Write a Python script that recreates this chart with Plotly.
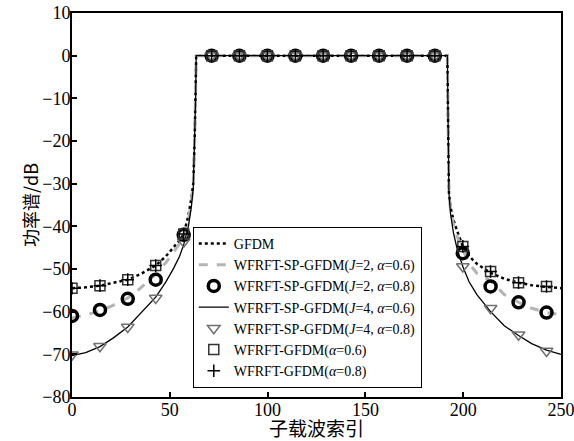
import plotly.graph_objects as go

# Subcarrier positions for continuous curves
x_line = [0, 7, 14.3, 21, 28.5, 35, 42.8, 48, 52, 55, 57.1, 59.5, 61, 62, 62.7, 63.2, 63.5,
          191.9, 192.2, 192.4, 192.7, 193.5, 195, 197, 199.8, 203, 207, 214, 221, 228.3, 235, 242.6, 250]
gfdm = [-54.5, -54.3, -53.9, -53.3, -52.5, -51.2, -49.2, -47, -45, -43.3, -41.8, -37.5, -33.5, -30, -20, -10, 0,
        0, -12, -25, -32, -35.5, -38.5, -41.2, -44.7, -47, -48.8, -50.9, -52.3, -53.2, -53.8, -54.2, -54.5]
sp_j2_a06 = [-61.5, -60.8, -59.8, -58.5, -56.8, -54.5, -51.2, -48.5, -46, -44, -42, -38.5, -34.5, -30, -20, -10, 0,
             0, -12, -25, -32, -36, -39.5, -42.5, -45.5, -48.7, -51, -52.8, -56, -57.8, -59.2, -60.2, -60.7]
sp_j4_a06 = [-70.3, -69.6, -68.2, -66.2, -63.6, -60.5, -56.6, -53, -49.8, -47, -44.3, -40, -35.5, -31, -20, -10, 0,
             0, -12, -25, -32, -37, -41.5, -45.5, -49.4, -53, -56, -60, -63.3, -65.6, -67.5, -69, -70]

# Marker positions
x_mark = [0, 14.3, 28.5, 42.8, 57.1, 71.4, 85.6, 99.9, 114.2, 128.4, 142.7, 157, 171.3, 185.5,
          199.8, 214, 228.3, 242.6]
sp_j2_a08 = [-61, -59.6, -57, -52.5, -42, 0, 0, 0, 0, 0, 0, 0, 0, 0, -46.3, -54.1, -57.8, -60.2]
sp_j4_a08 = [-70.1, -68.1, -63.6, -56.8, -43.6, 0, 0, 0, 0, 0, 0, 0, 0, 0, -49.4, -59.2, -65.4, -69.2]
wf_a06 = [-54.5, -53.9, -52.5, -49.2, -41.8, 0, 0, 0, 0, 0, 0, 0, 0, 0, -44.7, -50.6, -53.2, -54.1]
wf_a08 = [-54.5, -53.9, -52.5, -49.2, -41.8, 0, 0, 0, 0, 0, 0, 0, 0, 0, -44.7, -50.6, -53.2, -54.1]

x_ticks = [0, 50, 100, 150, 200, 250]
y_ticks = [10, 0, -10, -20, -30, -40, -50, -60, -70, -80]
x_title = "子载波索引"
y_title = "功率谱/dB"

serif = "Liberation Serif"
cjk = "Noto Sans CJK SC"

fig = go.Figure()
fig.add_trace(go.Scatter(x=x_line, y=gfdm, mode="lines", name="GFDM",
                         line=dict(color="black", width=2.5, dash="dot")))
fig.add_trace(go.Scatter(x=x_line, y=sp_j2_a06, mode="lines",
                         name="WFRFT-SP-GFDM(<i>J</i>=2, <i>α</i>=0.6)",
                         line=dict(color="#b4b4b4", width=3, dash="dash")))
fig.add_trace(go.Scatter(x=x_mark, y=sp_j2_a08, mode="markers",
                         name="WFRFT-SP-GFDM(<i>J</i>=2, <i>α</i>=0.8)",
                         marker=dict(symbol="circle-open", size=11, color="black", line=dict(width=3.5))))
fig.add_trace(go.Scatter(x=x_line, y=sp_j4_a06, mode="lines",
                         name="WFRFT-SP-GFDM(<i>J</i>=4, <i>α</i>=0.6)",
                         line=dict(color="black", width=1.3)))
fig.add_trace(go.Scatter(x=x_mark, y=sp_j4_a08, mode="markers",
                         name="WFRFT-SP-GFDM(<i>J</i>=4, <i>α</i>=0.8)",
                         marker=dict(symbol="triangle-down-open", size=11, color="#707070", line=dict(width=1.5))))
fig.add_trace(go.Scatter(x=x_mark, y=wf_a06, mode="markers",
                         name="WFRFT-GFDM(<i>α</i>=0.6)",
                         marker=dict(symbol="square-open", size=10, color="#333333", line=dict(width=1.5))))
fig.add_trace(go.Scatter(x=x_mark, y=wf_a08, mode="markers",
                         name="WFRFT-GFDM(<i>α</i>=0.8)",
                         marker=dict(symbol="cross-thin-open", size=9, color="black", line=dict(width=1.5))))

axis_common = dict(showline=True, linecolor="black", linewidth=2, mirror=True,
                   ticks="inside", ticklen=5, tickcolor="black", tickwidth=1.5,
                   showgrid=False, zeroline=False, automargin=False,
                   ticklabeloverflow="allow",
                   tickfont=dict(family=serif, size=18, color="black"))

fig.update_xaxes(range=[0, 250], tickvals=x_ticks, ticklabelstandoff=-5, **axis_common)
fig.update_yaxes(range=[-80, 10], tickvals=y_ticks, ticklabelstandoff=-4, **axis_common)

fig.add_annotation(text=x_title, xref="paper", yref="paper", x=0.5, y=0,
                   yshift=-30, xanchor="center", yanchor="middle", showarrow=False,
                   font=dict(family=cjk, size=19, color="black"))
fig.add_annotation(text=y_title, xref="paper", yref="paper", x=0, y=0.5,
                   xshift=-42, xanchor="center", yanchor="middle", showarrow=False, textangle=-90,
                   font=dict(family=cjk, size=18, color="black"))

fig.update_layout(
    width=574, height=441,
    margin=dict(l=72, r=13, t=13, b=44),
    paper_bgcolor="white", plot_bgcolor="white",
    showlegend=True,
    legend=dict(x=0.247, y=0.443, xanchor="left", yanchor="top",
                bgcolor="white", bordercolor="black", borderwidth=1,
                font=dict(family=serif, size=14, color="black"),
                tracegroupgap=0, itemwidth=30),
)

fig.write_html("out.html", config={"displayModeBar": False},
               post_script="document.body.style.margin='0';document.body.style.overflow='hidden';")
